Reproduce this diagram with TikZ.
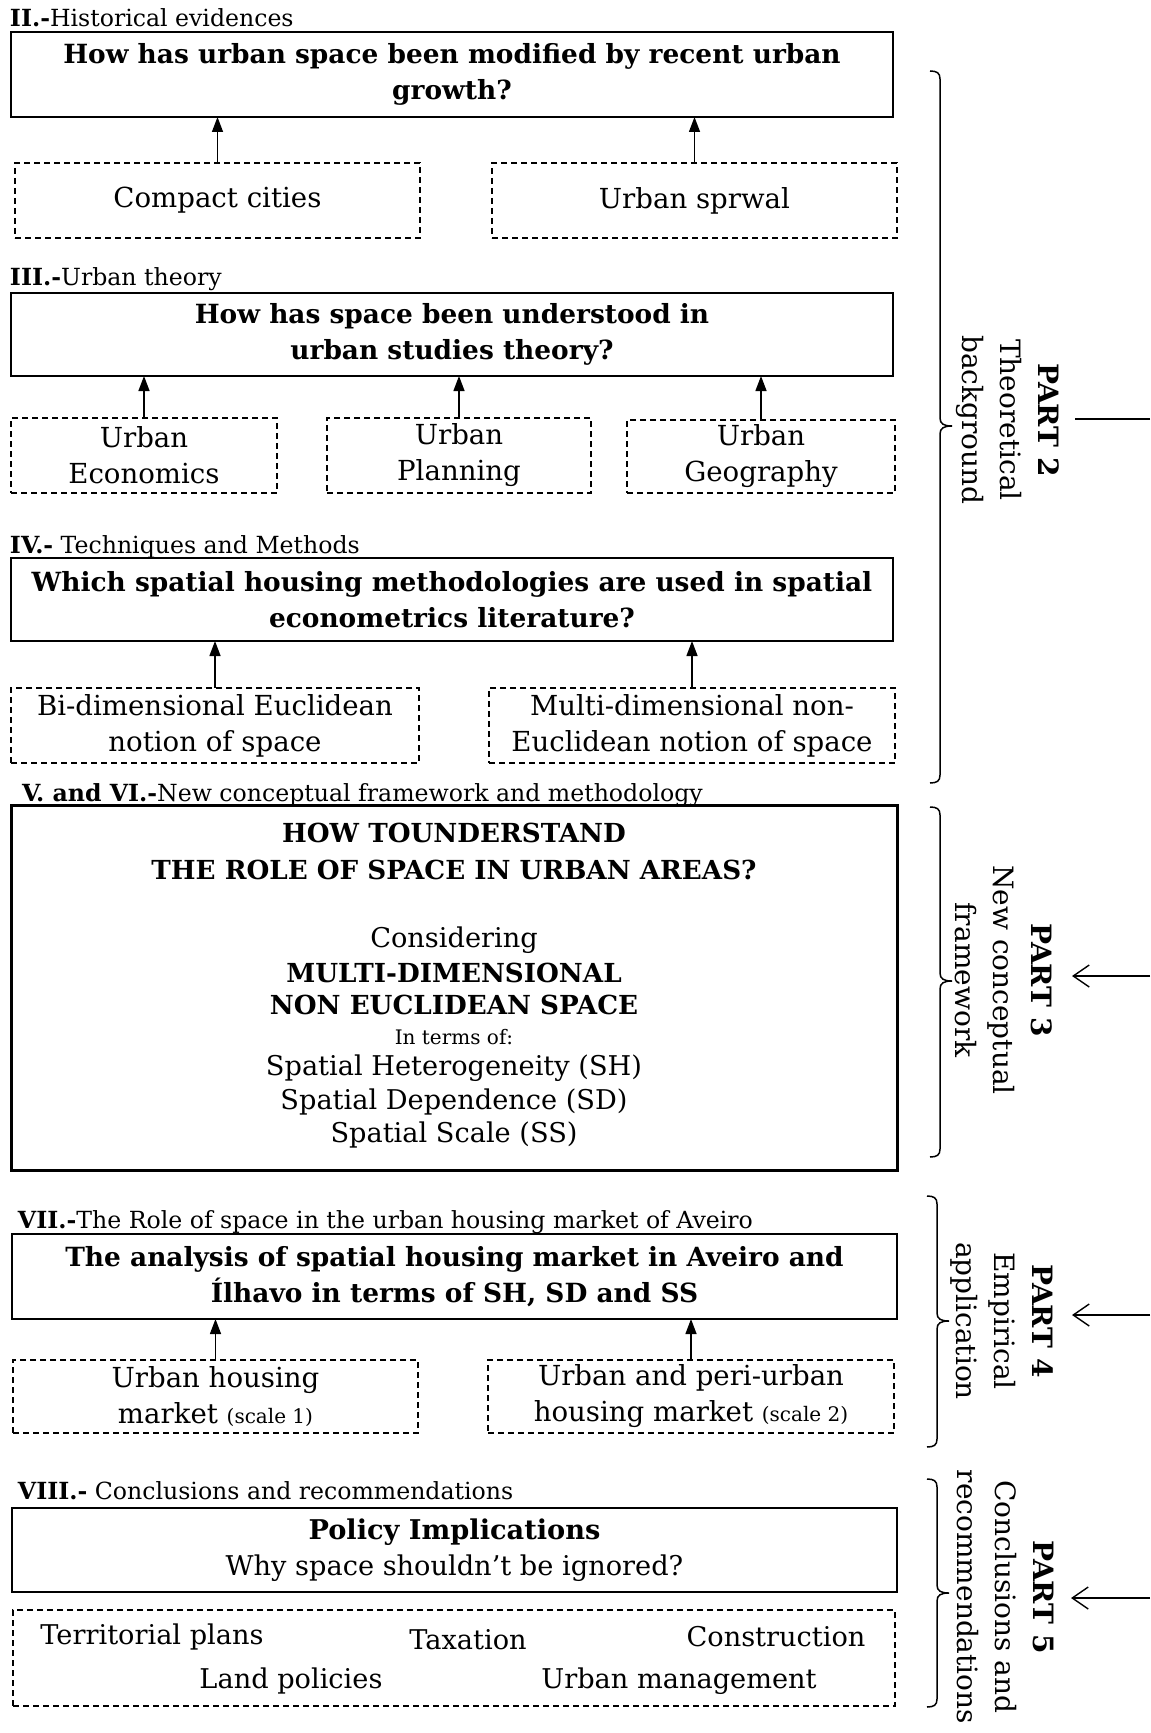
\documentclass[tikz,border=0pt]{standalone}
\usepackage{fontspec}
\setmainfont{DejaVu Serif}[Ligatures=ResetAll]
\usetikzlibrary{arrows.meta}

% right-hand brace: x, top, middle, bottom
\newcommand\bracepart[4]{%
  \draw[line width=0.75pt]
    ({#1-10},#2) .. controls ({#1-3},#2) and (#1,{#2+2}) .. (#1,{#2+8})
    -- (#1,{#3-8}) .. controls (#1,{#3-2}) and ({#1+4},#3) .. ({#1+12},#3)
    .. controls ({#1+4},#3) and (#1,{#3+2}) .. (#1,{#3+8})
    -- (#1,{#4-8}) .. controls (#1,{#4-2}) and ({#1-3},#4) .. ({#1-10},#4);}

\begin{document}
\begin{tikzpicture}[x=0.5pt,y=-0.5pt,
  every node/.style={inner sep=0pt, outer sep=0pt},
  qbox/.style={draw, line width=1pt, align=center, minimum width=441pt,
    font=\bfseries\fontsize{13.2}{18.3}\selectfont},
  dbox/.style={draw, line width=0.7pt, dash pattern=on 3pt off 2pt, align=center,
    font=\fontsize{13.8}{18}\selectfont},
  sect/.style={anchor=base west, font=\fontsize{11.8}{13}\selectfont},
  plain/.style={font=\fontsize{13.6}{16.5}\selectfont},
  boldcap/.style={font=\bfseries\fontsize{13.1}{15}\selectfont},
  small/.style={font=\fontsize{10}{12}\selectfont},
  feed/.style={line width=0.7pt, -{Triangle[length=7.5pt,width=5.5pt]}},
  partlbl/.style={rotate=-90, align=center, font=\fontsize{14}{19}\selectfont},
  inarrow/.style={line width=0.7pt, -{Straight Barb[length=8pt,width=11pt]}},
]
\useasboundingbox (0,0) rectangle (1150,1733);

% ---- II. Historical evidences
\node[sect] (s2) at (10,27) {\textbf{II.-}Historical evidences};
\node[qbox, minimum height=42.5pt] (B1) at (452,74.5)
  {How has urban space been modified by recent urban\\growth?};
\node[dbox, minimum width=202.5pt, minimum height=37.5pt] (D1a) at (217.5,200.5) {Compact cities};
\node[dbox, minimum width=202.5pt, minimum height=37.5pt] (D1b) at (694.5,200.5) {Urban sprwal};
\draw[feed] (D1a.north) -- (D1a.north |- B1.south);
\draw[feed] (D1b.north) -- (D1b.north |- B1.south);

% ---- III. Urban theory
\node[sect] (s3) at (10,286) {\textbf{III.-}Urban theory};
\node[qbox, minimum height=41.5pt] (B2) at (452,334.5)
  {How has space been understood in\\urban studies theory?};
\node[dbox, minimum width=133pt, minimum height=37.5pt] (D2a) at (144,455.5) {Urban\\Economics};
\node[dbox, minimum width=132pt, minimum height=37.5pt] (D2b) at (459,455.5) {Urban\\Planning};
\node[dbox, minimum width=134pt, minimum height=36.5pt] (D2c) at (761,456.5) {Urban\\Geography};
\draw[feed] (D2a.north) -- (D2a.north |- B2.south);
\draw[feed] (D2b.north) -- (D2b.north |- B2.south);
\draw[feed] (D2c.north) -- (D2c.north |- B2.south);

% ---- IV. Techniques and Methods
\node[sect] (s4) at (10,553) {\textbf{IV.-} Techniques and Methods};
\node[qbox, minimum height=41.5pt] (B3) at (452,599.5)
  {Which spatial housing methodologies are used in  spatial\\econometrics literature?};
\node[dbox, minimum width=204pt, minimum height=37.5pt] (D3a) at (215,725.5)
  {Bi-dimensional Euclidean\\notion of space};
\node[dbox, minimum width=203pt, minimum height=37.5pt] (D3b) at (692,725.5)
  {Multi-dimensional  non-\\Euclidean notion of space};
\draw[feed] (D3a.north) -- (D3a.north |- B3.south);
\draw[feed] (D3b.north) -- (D3b.north |- B3.south);

% ---- V. and VI. New conceptual framework
\node[sect] (s5) at (22,801) {\textbf{V. and VI.-}New conceptual framework and methodology};
\node[draw, line width=1.5pt, minimum width=443pt, minimum height=182.5pt] (B4) at (454,987.5) {};
\node[boldcap] (m1) at (454,833) {HOW TOUNDERSTAND};
\node[boldcap] (m2) at (454,870) {THE ROLE OF SPACE IN URBAN AREAS?};
\node[plain] (m3) at (454,940) {Considering};
\node[boldcap] (m4) at (454,973) {MULTI-DIMENSIONAL};
\node[boldcap] (m5) at (454,1005) {NON EUCLIDEAN SPACE};
\node[small] (m6) at (454,1037) {In terms of:};
\node[plain] (m7) at (454,1068) {Spatial Heterogeneity (SH)};
\node[plain] (m8) at (454,1102) {Spatial Dependence (SD)};
\node[plain] (m9) at (454,1135) {Spatial Scale  (SS)};

% ---- VII. Aveiro housing market
\node[sect] (s7) at (18,1228) {\textbf{VII.-}The Role  of space in the urban housing market of Aveiro};
\node[qbox, minimum width=442.5pt, minimum height=42.5pt] (B5) at (454.5,1276.5)
  {The analysis of spatial housing  market in Aveiro and\\Ílhavo in  terms of SH, SD and SS};
\node[dbox, minimum width=202.5pt, minimum height=36.5pt] (D5a) at (215.5,1396.5)
  {Urban housing\\market {\fontsize{10}{12}\selectfont(scale 1)}};
\node[dbox, minimum width=203pt, minimum height=36.5pt] (D5b) at (691,1396.5)
  {Urban and peri-urban\\housing market {\fontsize{10}{12}\selectfont(scale 2)}};
\draw[feed] (D5a.north) -- (D5a.north |- B5.south);
\draw[feed] (D5b.north) -- (D5b.north |- B5.south);

% ---- VIII. Conclusions
\node[sect] (s8) at (18,1499) {\textbf{VIII.-} Conclusions and recommendations};
\node[draw, line width=1pt, align=center, minimum width=442.5pt, minimum height=42pt,
  font=\fontsize{13.6}{18.3}\selectfont] (B6) at (454.5,1550)
  {\textbf{Policy Implications}\\Why space shouldn't be ignored?};
\node[dbox, minimum width=441pt, minimum height=48pt] (D6) at (454,1658) {};
\node[plain] (c1) at (152,1637) {Territorial plans};
\node[plain] (c2) at (468,1640) {Taxation};
\node[plain] (c3) at (776,1637) {Construction};
\node[plain] (c4) at (291,1681) {Land policies};
\node[plain] (c5) at (679,1681) {Urban management};

% ---- parts on the right
\bracepart{940}{71}{426}{783}
\bracepart{940}{807}{981}{1157}
\bracepart{937}{1196}{1321}{1447}
\bracepart{937}{1479}{1593}{1707}

\node[partlbl] (P2) at (1008,420) {\textbf{PART 2}\\Theoretical\\background};
\node[partlbl] (P3) at (1004,980) {\textbf{PART 3}\\New conceptual\\framework};
\node[partlbl] (P4) at (1002,1321) {\textbf{PART 4}\\Empirical\\application};
\node[partlbl] (P5) at (1005,1597) {\textbf{PART 5}\\Conclusions and\\recommendations};

\coordinate (E2) at (1150,419);
\coordinate (E3) at (1150,976);
\coordinate (E4) at (1150,1315);
\coordinate (E5) at (1150,1598);
\draw[line width=0.7pt] (E2) -- (1075,419);
\draw[inarrow] (E3) -- (1072,976);
\draw[inarrow] (E4) -- (1072,1315);
\draw[inarrow] (E5) -- (1071,1598);
\end{tikzpicture}
\end{document}
